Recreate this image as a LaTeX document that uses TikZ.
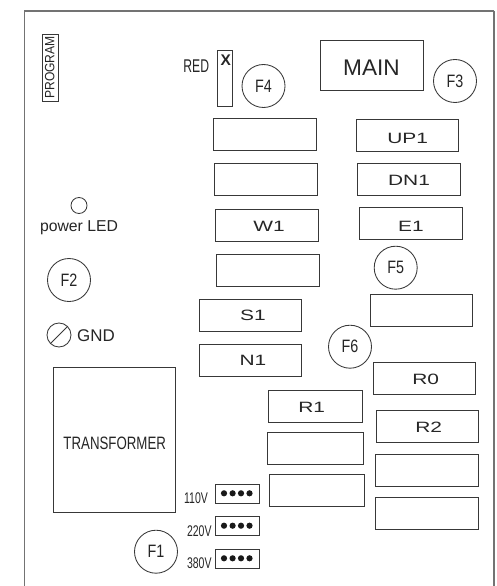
\documentclass[tikz,border=0pt]{standalone}
\usepackage{graphicx}
\usepackage{fontspec}
\setmainfont{Liberation Sans}
\newcommand{\fsz}[1]{\fontsize{#1}{#1}\selectfont}
\newcommand{\stretched}[2]{\scalebox{#1}[1]{#2}}
\tikzset{
  x=1bp,y=-1bp,
  line/.style={draw=black!78,line width=0.85bp},
  relay/.style={line,rectangle,inner sep=0pt,minimum height=32bp},
  fuse/.style={line,circle,inner sep=0pt,text=black!85},
  txt/.style={inner sep=0pt,text=black!85},
  relaytxt/.style={txt,font=\fsz{15}},
  fusetxt/.style={font=\fsz{18}},
  volt/.style={txt,font=\fsz{15.5}},
  jumper/.style={line,rectangle,inner sep=0pt,minimum width=44bp,minimum height=19bp},
  pin/.style={circle,fill=black!90,inner sep=0pt,minimum size=6.2bp},
}
\newcommand{\relaybox}[5]{\node[relay,minimum width=#4bp,minimum height=#5bp] (#1) at (#2,#3) {};}
\newcommand{\pins}[2]{%
  \node[pin] (#1p1) at (224,#2) {};\node[pin] (#1p2) at (232.6,#2) {};
  \node[pin] (#1p3) at (241,#2) {};\node[pin] (#1p4) at (249.5,#2) {};}
\begin{document}
\begin{tikzpicture}
\useasboundingbox (0,0) rectangle (497,586);
\fill[white] (0,0) rectangle (497,586);
% frame (open at the bottom)
\coordinate (fbl) at (24.5,586);\coordinate (ftl) at (24.5,11);
\coordinate (ftr) at (493.5,11);\coordinate (fbr) at (493.5,586);
\draw[draw=black!55,line width=1.4bp] (fbl) -- (ftl) -- (ftr);
\draw[draw=black!55,line width=2bp] (ftr) -- (fbr);
% program
\node[line,rectangle,inner sep=0pt,minimum width=16bp,minimum height=67bp] (prog) at (50,67.5) {};
\node[txt,rotate=90,font=\fsz{13.5}] (progt) at (49.7,67.5) {\stretched{0.9}{PROGRAM}};
% red X
\node[line,rectangle,inner sep=0pt,minimum width=15bp,minimum height=55.5bp] (xbox) at (225,78.3) {};
\node[txt,font=\fsz{15.5}\bfseries] (xt) at (225.7,60) {X};
\node[txt,font=\fsz{18.5}] (red) at (196.3,66) {\stretched{0.66}{RED}};
% main
\node[relay,minimum width=103bp,minimum height=50bp] (main) at (372,65.5) {};
\node[txt,font=\fsz{22.7}] (maint) at (371.5,68) {MAIN};
% fuses
\node[fuse,minimum size=43bp,fusetxt] (f1) at (156,551.7) {\stretched{0.8}{F1}};
\node[fuse,minimum size=43bp,fusetxt] (f2) at (69,280) {\stretched{0.8}{F2}};
\node[fuse,minimum size=43bp,fusetxt] (f3) at (455,81) {\stretched{0.8}{F3}};
\node[fuse,minimum size=43bp,fusetxt] (f4) at (263.5,86) {\stretched{0.8}{F4}};
\node[fuse,minimum size=43bp,fusetxt] (f5) at (395.7,267.7) {\stretched{0.8}{F5}};
\node[fuse,minimum size=43bp,fusetxt] (f6) at (350,346.7) {\stretched{0.8}{F6}};
% left column
\node[line,circle,inner sep=0pt,minimum size=16bp] (led) at (79,205.5) {};
\node[txt,font=\fsz{15.8}] (ledt) at (79,228) {power LED};
\node[line,circle,inner sep=0pt,minimum size=24bp] (gnd) at (59,335) {};
\draw[line] (gnd.225) -- (gnd.45);
\node[txt,font=\fsz{17}] (gndt) at (96,335.5) {GND};
\node[line,rectangle,inner sep=0pt,minimum width=122bp,minimum height=145.5bp] (tr) at (114.5,439.7) {};
\node[txt,font=\fsz{18}] (trt) at (114.7,443.5) {\stretched{0.74}{TRANSFORMER}};
% relays
\relaybox{ra}{264.7}{134.5}{102.5}{32}
\relaybox{rb}{265.7}{179.5}{102.5}{32}
\relaybox{rw}{266.7}{225}{102.5}{32}
\relaybox{rd}{267.7}{270}{102.5}{32}
\relaybox{rs}{250.2}{315.2}{102.5}{32}
\relaybox{rn}{250.2}{360.5}{102.5}{32}
\relaybox{rup}{407.2}{135.2}{102.5}{32}
\relaybox{rdn}{408.7}{179.5}{102.5}{32}
\relaybox{re}{410.7}{223.8}{102.5}{32}
\relaybox{rf}{421.5}{310.2}{102.5}{32}
\relaybox{rzero}{424.2}{378}{102.5}{32}
\relaybox{rtwo}{427.2}{426}{102.5}{32}
\relaybox{rg}{426.7}{470.5}{102.5}{32}
\relaybox{rh}{427}{513}{102.5}{32}
\relaybox{rone}{315.5}{406.5}{94}{32}
\relaybox{ri}{315.2}{448.7}{96.5}{32}
\relaybox{rj}{316.7}{490.7}{95.5}{32}
\node[relaytxt] (tup) at (407.7,138) {\stretched{1.4}{UP1}};
\node[relaytxt] (tdn) at (409,180) {\stretched{1.4}{DN1}};
\node[relaytxt] (te) at (411,226) {\stretched{1.4}{E1}};
\node[relaytxt] (tw) at (269,226.7) {\stretched{1.4}{W1}};
\node[relaytxt] (ts) at (253,315) {\stretched{1.4}{S1}};
\node[relaytxt] (tn) at (253,360) {\stretched{1.4}{N1}};
\node[relaytxt] (tzero) at (425.7,379) {\stretched{1.4}{R0}};
\node[relaytxt] (tone) at (311.7,407) {\stretched{1.4}{R1}};
\node[relaytxt] (ttwo) at (428.7,427.7) {\stretched{1.4}{R2}};
% jumpers
\node[jumper] (j1) at (237.3,493.8) {};
\node[jumper] (j2) at (237.3,526.3) {};
\node[jumper] (j3) at (237.3,558.8) {};
\pins{a}{493.3}
\pins{b}{525.7}
\pins{c}{558.3}
\node[volt] (v1) at (196,497.7) {\stretched{0.68}{110V}};
\node[volt] (v2) at (199.3,531) {\stretched{0.68}{220V}};
\node[volt] (v3) at (199.3,563) {\stretched{0.68}{380V}};
\end{tikzpicture}
\end{document}
